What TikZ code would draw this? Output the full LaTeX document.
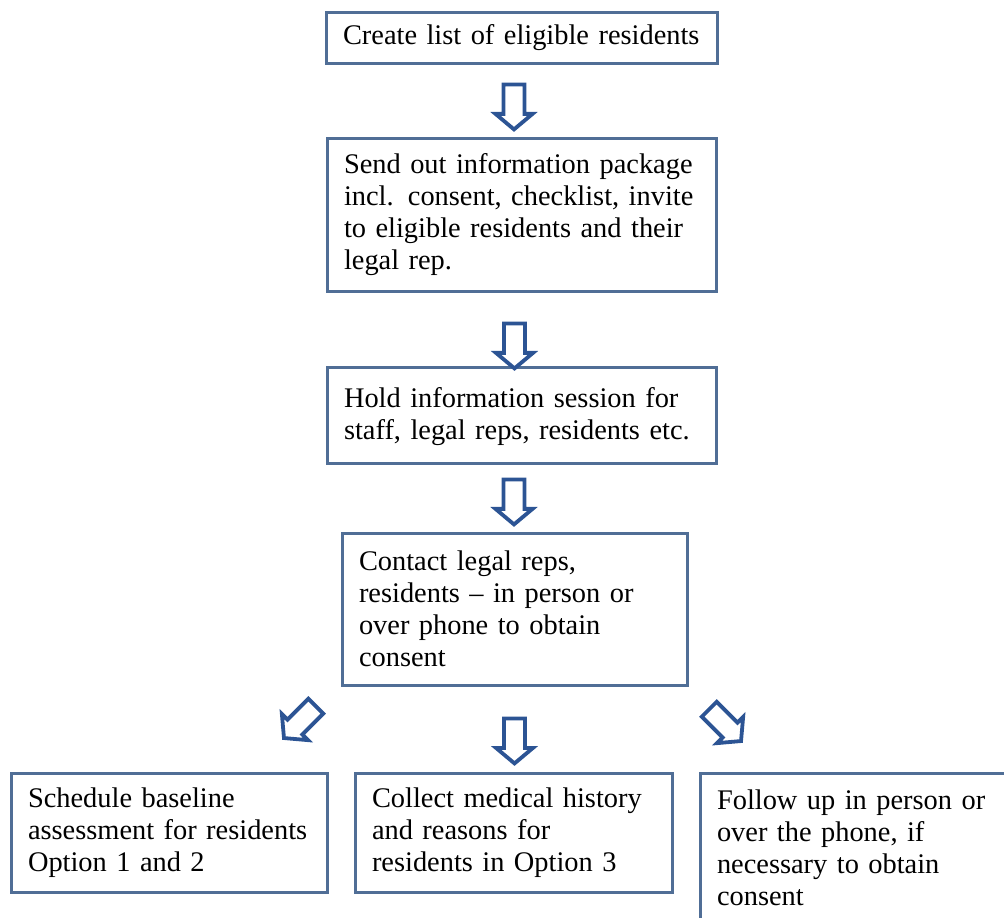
\documentclass[tikz,border=0pt]{standalone}
\usepackage{fontspec}
\setmainfont{Liberation Serif}
\usepackage{tikz}
\usetikzlibrary{shapes.arrows}
\definecolor{boxline}{RGB}{80,110,150}
\definecolor{arrowblue}{RGB}{44,84,148}

\begin{document}
\begin{tikzpicture}[x=0.5pt,y=-0.5pt,
    every node/.style={font=\fontsize{14.2}{16}\selectfont},
    stepbox/.style={draw=boxline, line width=1.5pt, fill=white, align=left,
      inner xsep=8.5pt, inner ysep=0pt},
    blockarrow/.style={single arrow, draw=arrowblue, line width=1.9pt, fill=white,
      inner xsep=0pt, inner ysep=4.3pt, minimum height=22.5pt, minimum width=16.6pt,
      single arrow head extend=4pt, single arrow tip angle=100}]
      \useasboundingbox (0,0) rectangle (1004,917);
      \clip (0,0) rectangle (1004,917);
      \node[stepbox, text width=178.5pt, minimum height=25.5pt] (L) at (521.5,37.5)
        {Create list of eligible residents};
      \node[stepbox, text width=177.5pt, minimum height=76.5pt] (P) at (521.5,214.5)
        {Send out information package\\ incl. consent, checklist, invite\\ to eligible residents and their\\ legal rep.};
      \node[stepbox, text width=177.5pt, minimum height=48pt] (S) at (521.5,415)
        {\strut Hold information session for\\ staff, legal reps, residents etc.};
      \node[stepbox, text width=155.5pt, minimum height=76pt] (C) at (514.5,609)
        {Contact legal reps,\\ residents -- in person or\\ over phone to obtain\\ consent};
      \node[stepbox, text width=141pt, minimum height=59.5pt] (B) at (169,832.5)
        {Schedule baseline\\ assessment for residents\\ Option 1 and 2};
      \node[stepbox, text width=141.5pt, minimum height=59.5pt] (M) at (513.5,832.5)
        {Collect medical history\\ and reasons for\\ residents in Option 3};
      \node[stepbox, text width=139pt, minimum height=74.5pt] (F) at (856,847.5)
        {Follow up in person or\\ over the phone, if\\ necessary to obtain\\ consent};
      \node[blockarrow, rotate=-90] (LP) at (514,102.5) {};
      \node[blockarrow, rotate=-90] (PS) at (514.5,341.5) {};
      \node[blockarrow, rotate=-90] (SC) at (514,497.5) {};
      \node[blockarrow, rotate=-90] (CM) at (514.5,736.5) {};
      \node[blockarrow, rotate=-135] (CB) at (303,719) {};
      \node[blockarrow, rotate=-45] (CF) at (722,722) {};
\end{tikzpicture}
\end{document}
